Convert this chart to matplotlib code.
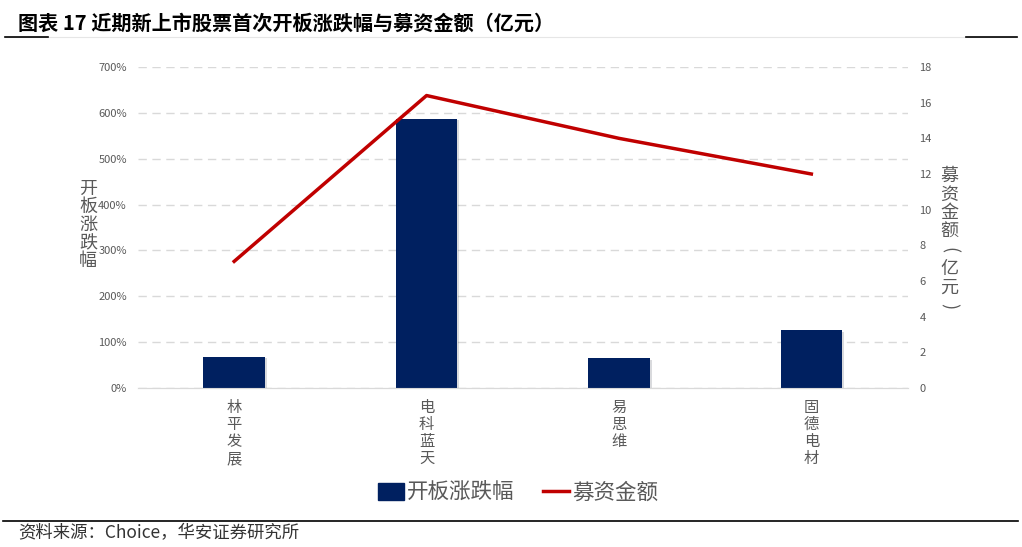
import numpy as np
import matplotlib
matplotlib.use("Agg")
import matplotlib.pyplot as plt
import matplotlib.patheffects as pe
from matplotlib.lines import Line2D
from matplotlib.patches import Patch

plt.rcParams['font.family'] = ['Noto Sans CJK SC', 'DejaVu Sans']

# data
stocks = ['林平发展', '电科蓝天', '易思维', '固德电材']
open_change = [68, 587, 65, 126]      # 开板涨跌幅 (%)
raised = [7.1, 16.4, 14.0, 12.0]      # 募资金额 (亿元)
left_ticks = [0, 100, 200, 300, 400, 500, 600, 700]
right_ticks = [0, 2, 4, 6, 8, 10, 12, 14, 16, 18]

navy = '#002060'
red = '#c00000'
grey = '#595959'
W, H = 1022, 547

fig = plt.figure(figsize=(W / 100, H / 100), dpi=100)
ax = fig.add_axes([0.135, 0.2907, 0.753, 0.5868])
ax2 = ax.twinx()

x = np.arange(len(stocks))
bars = ax.bar(x, open_change, width=0.32, color=navy, zorder=3)
for b in bars:
    b.set_path_effects([pe.SimplePatchShadow(offset=(1.5, -1), alpha=0.15), pe.Normal()])

ax.set_xlim(-0.5, len(stocks) - 0.5)
ax.set_ylim(0, 700)
ax.set_yticks(left_ticks)
ax.set_yticklabels([f'{v}%' for v in left_ticks])
ax.grid(axis='y', color='#d9d9d9', linestyle=(0, (6, 4)), linewidth=1.0, zorder=0)
ax.set_axisbelow(True)
ax.set_xticks(x)
ax.set_xticklabels(['\n'.join(s) for s in stocks], linespacing=1.0, fontsize=11, color=grey, va='top')
ax.tick_params(axis='x', length=0, pad=8)
ax.tick_params(axis='y', length=0, pad=8, labelsize=8, labelcolor=grey)

ax2.plot(x, raised, color=red, linewidth=2.5, zorder=4)
ax2.set_ylim(0, 18)
ax2.set_yticks(right_ticks)
ax2.tick_params(axis='y', length=0, pad=8.5, labelsize=8, labelcolor=grey)

for a in (ax, ax2):
    for s in ('top', 'left', 'right'):
        a.spines[s].set_visible(False)
    a.spines['bottom'].set_color('#d9d9d9')

# vertical axis titles, one character per line
fig.text(88 / W, 1 - 225 / H, '\n'.join('开板涨跌幅'), ha='center', va='center',
         fontsize=13, color=grey, linespacing=1.0)
right_label = '募资金额(亿元)'
for i, ch in enumerate(right_label):
    rot = -90 if ch in '()' else 0
    fig.text(949 / W, 1 - (176 + i * 18.6) / H, ch, ha='center', va='center',
             fontsize=13, color=grey, rotation=rot)

handles = [Patch(facecolor=navy, edgecolor=navy), Line2D([0], [0], color=red, linewidth=2.5)]
fig.legend(handles, ['开板涨跌幅', '募资金额'], loc='center', bbox_to_anchor=(518 / W, 1 - 493 / H),
           ncol=2, frameon=False, fontsize=15.5, handlelength=1.2, handleheight=0.8,
           handletextpad=0.15, columnspacing=1.3, labelcolor=grey)

# title and frame lines
fig.text(18 / W, 1 - 23 / H, '图表 17 近期新上市股票首次开板涨跌幅与募资金额（亿元）',
         ha='left', va='center', fontsize=14.5, fontweight='bold', color='black')
y_top = 1 - 37 / H
fig.add_artist(Line2D([5 / W, 1017 / W], [y_top, y_top], color='#e6e6e6', linewidth=0.8))
fig.add_artist(Line2D([5 / W, 48 / W], [y_top, y_top], color='black', linewidth=1.2))
fig.add_artist(Line2D([966 / W, 1017 / W], [y_top, y_top], color='black', linewidth=1.2))
y_bot = 1 - 521 / H
fig.add_artist(Line2D([3 / W, 1018 / W], [y_bot, y_bot], color='black', linewidth=1.2))
fig.text(18 / W, 1 - 533 / H, '资料来源：Choice，华安证券研究所', ha='left', va='center',
         fontsize=12.5, color='#333333')

fig.savefig('out.png', dpi=100)
